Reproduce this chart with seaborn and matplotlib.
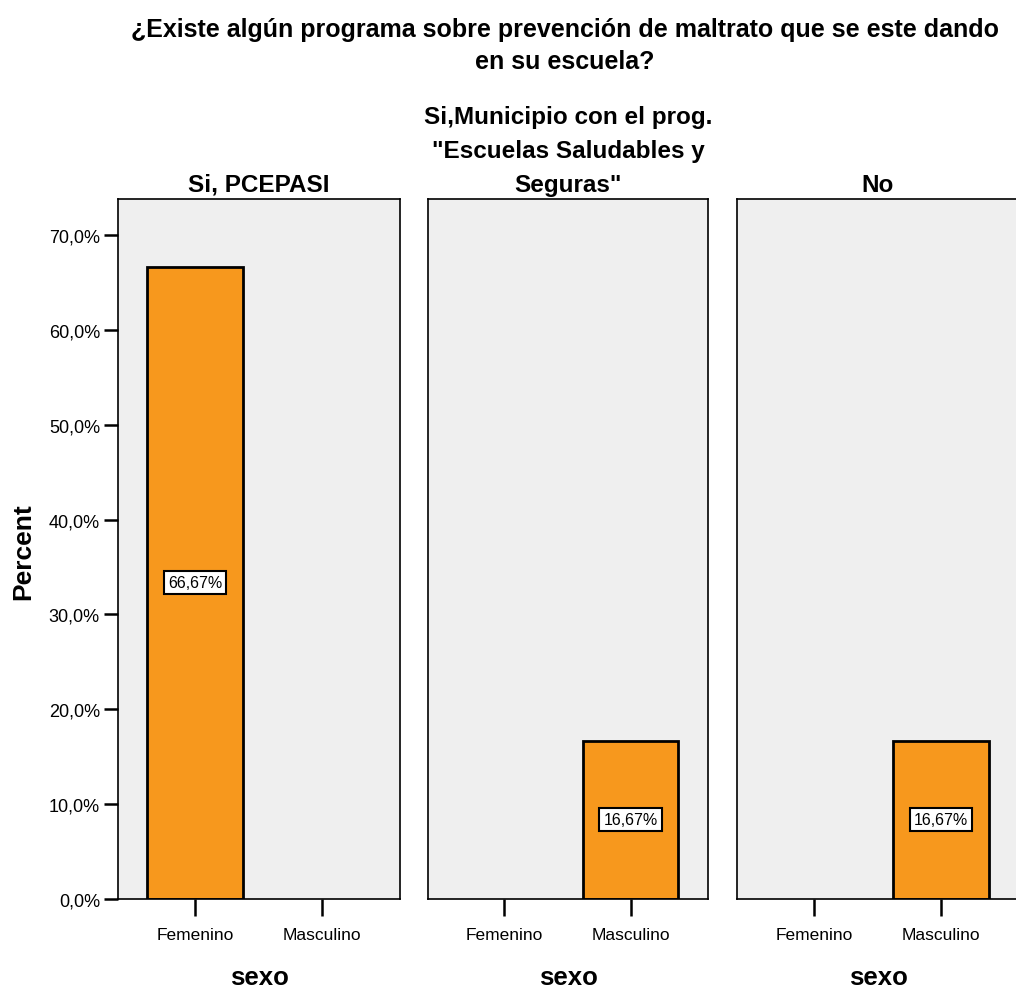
import matplotlib
matplotlib.use("Agg")
import matplotlib.pyplot as plt
import pandas as pd
import seaborn as sns

# data
programas = ["Si, PCEPASI",
             "Si,Municipio con el prog.\n\"Escuelas Saludables y\nSeguras\"",
             "No"]
sexo = ["Femenino", "Masculino"]
pct_femenino = [66.67, 0.0, 0.0]
pct_masculino = [0.0, 16.67, 16.67]
y_ticks = [0, 10, 20, 30, 40, 50, 60, 70]

records = []
for i, prog in enumerate(programas):
    records.append({"programa": prog, "sexo": "Femenino", "pct": pct_femenino[i]})
    records.append({"programa": prog, "sexo": "Masculino", "pct": pct_masculino[i]})
df = pd.DataFrame(records)

sns.set_style("white")
plt.rcParams["font.family"] = ["Liberation Sans", "DejaVu Sans"]
plt.rcParams["text.color"] = "black"
plt.rcParams["axes.labelcolor"] = "black"
plt.rcParams["xtick.color"] = "black"
plt.rcParams["ytick.color"] = "black"

bar_color = "#F7981D"
bg_color = "#EFEFEF"

fig = plt.figure(figsize=(10.16, 9.95), dpi=100)
W, H = 1016, 995
lefts = [118, 428, 737]
widths = [282, 280, 282]
bottom_px, top_px = 900, 200

for i, prog in enumerate(programas):
    ax = fig.add_axes([lefts[i] / W, 1 - bottom_px / H, widths[i] / W, (bottom_px - top_px) / H])
    sub = df[df["programa"] == prog]
    sns.barplot(data=sub, x="sexo", y="pct", order=sexo, color=bar_color,
                saturation=1, width=0.75, edgecolor="black", linewidth=2, ax=ax)
    # empty categories get no outline
    for p in ax.patches:
        if p.get_height() == 0:
            p.set_linewidth(0)
    ax.set_facecolor(bg_color)
    ax.set_xlim(-0.606, 1.614)
    ax.set_ylim(0, 73.8)
    for s in ax.spines.values():
        s.set_visible(True)
        s.set_color("black")
        s.set_linewidth(1.2)
    ax.set_title(prog, fontsize=17.5, fontweight="bold", pad=6, linespacing=1.6)
    ax.set_xlabel("sexo", fontsize=18.5, fontweight="bold", labelpad=17)
    ax.tick_params(axis="x", direction="out", length=12, width=1.8, labelsize=12.5, pad=8,
                   bottom=True)
    if i == 0:
        ax.set_yticks(y_ticks)
        ax.set_yticklabels([f"{v:.1f}%".replace(".", ",") for v in y_ticks])
        ax.tick_params(axis="y", direction="out", length=10, width=1.8, labelsize=13,
                       left=True, pad=3)
    else:
        ax.set_yticks([])
    ax.set_ylabel("")
    # value labels in the middle of each non-empty bar
    for j, sx in enumerate(sexo):
        val = pct_femenino[i] if sx == "Femenino" else pct_masculino[i]
        if val > 0:
            ax.text(j, val / 2, f"{val:.2f}%".replace(".", ","), ha="center", va="center",
                    fontsize=11.5,
                    bbox=dict(boxstyle="square,pad=0.25", facecolor="white",
                              edgecolor="black", linewidth=1.5))

fig.text(23 / W, 1 - 552 / H, "Percent", rotation=90, ha="center", va="center",
         fontsize=19, fontweight="bold")

fig.text(565 / W, 1 - 46 / H,
         "¿Existe algún programa sobre prevención de maltrato que se este dando\nen su escuela?",
         ha="center", va="center", fontsize=18, fontweight="bold", linespacing=1.4)

fig.savefig("out.png", dpi=100)
